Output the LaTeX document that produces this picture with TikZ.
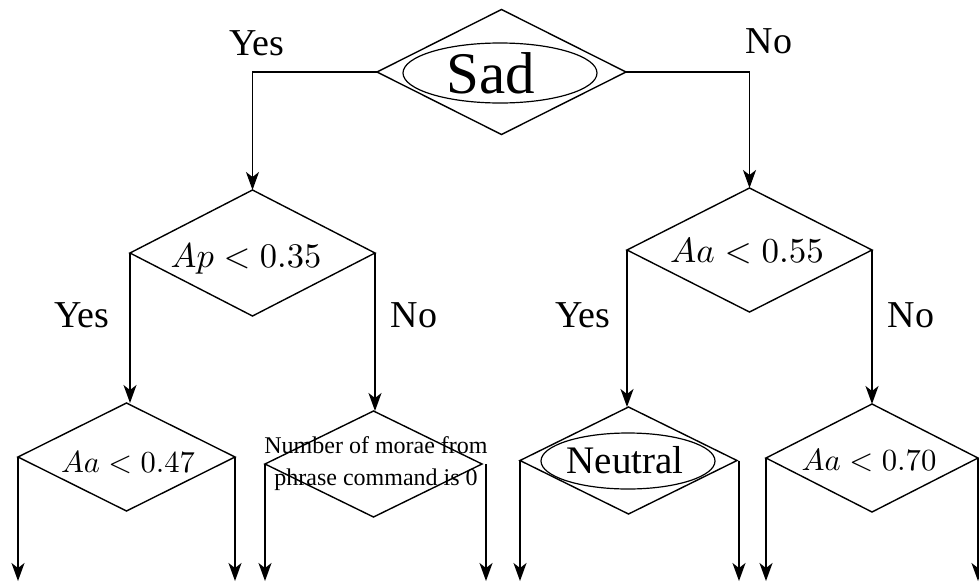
\RequirePackage{fix-cm}
\documentclass[tikz,border=0pt]{standalone}
\usepackage{fontspec}
\setmainfont{Liberation Serif}
\newcommand\bigtxt[3]{\scalebox{#1}{\fontsize{#2}{#2}\selectfont #3}}
\usetikzlibrary{shapes.geometric,arrows.meta}
\begin{document}
\begin{tikzpicture}[x=1pt,y=-1pt,
  every node/.style={inner sep=0pt,outer sep=0pt},
  dia/.style n args={2}{draw,shape=diamond,line width=1.4pt,minimum width=#1,minimum height=#2},
  ell/.style n args={2}{draw,shape=ellipse,line width=1.2pt,minimum width=#1,minimum height=#2},
  arr/.style={line width=1.4pt,-{Stealth[length=18pt,width=13pt,inset=5pt]}},
  txt/.style={anchor=base},
  lab/.style={anchor=base,font=\fontsize{38}{44}\selectfont}]
\useasboundingbox (0,0) rectangle (979,584);
% diamonds
\node[dia={249pt}{125pt}] (D0) at (501.5,72) {};
\node[dia={245pt}{126pt}] (D1) at (252.5,253) {};
\node[dia={245pt}{124pt}] (D2) at (749.5,250) {};
\node[dia={217pt}{108pt}] (D3) at (126.5,457) {};
\node[dia={217pt}{106pt}] (D4) at (373.5,464) {};
\node[dia={217pt}{107pt}] (D5) at (628.5,460.5) {};
\node[dia={212pt}{108pt}] (D6) at (872,458) {};
% ellipses
\node[ell={194pt}{60pt}] (E0) at (500,73) {};
\node[ell={174pt}{56pt}] (E5) at (628,461) {};
% texts
\node[txt,font=\fontsize{59}{60}\selectfont] (tSad) at (491,93) {Sad};
\node[txt,font=\fontsize{39}{44}\selectfont] (tNeu) at (625,473) {Neutral};
\node[txt] (tAp) at (246,267) {\bigtxt{3.45}{10}{$Ap<0.35$}};
\node[txt] (tA55) at (747,262) {\bigtxt{3.5}{10}{$Aa<0.55$}};
\node[txt] (tA47) at (128,472) {\bigtxt{3.05}{10}{$Aa<0.47$}};
\node[txt] (tA70) at (869,470) {\bigtxt{3.07}{10}{$Aa<0.70$}};
\node[txt,font=\fontsize{24}{32}\selectfont] (tM1) at (376,453) {Number of morae from};
\node[txt,font=\fontsize{24}{32}\selectfont] (tM2) at (376,485) {phrase command is 0};
% branch labels
\node[lab] (y0) at (257,55) {Yes};
\node[lab] (n0) at (769,53) {No};
\node[lab] (y1) at (82,327) {Yes};
\node[lab] (n1) at (414,327) {No};
\node[lab] (y2) at (583,327) {Yes};
\node[lab] (n2) at (911,327) {No};
% connectors
\draw[arr] (D0.west) -| (D1.north);
\draw[arr] (D0.east) -| (D2.north);
\draw[arr] (D1.west) -- (D1.west |- D3.north);
\draw[arr] (D1.east) -- (D1.east |- D4.north);
\draw[arr] (D2.west) -- (D2.west |- D5.north);
\draw[arr] (D2.east) -- (D2.east |- D6.north);
\coordinate (bot) at (0,581);
\draw[arr] (D3.west) -- (D3.west |- bot);
\draw[arr] (D3.east) -- (D3.east |- bot);
\draw[arr] (D4.west) -- (D4.west |- bot);
\draw[arr] ([xshift=4pt]D4.east) -- ([xshift=4pt]D4.east |- bot);
\draw[arr] (D5.west) -- (D5.west |- bot);
\draw[arr] ([xshift=2pt]D5.east) -- ([xshift=2pt]D5.east |- bot);
\draw[arr] (D6.west) -- (D6.west |- bot);
\draw[arr] (D6.east) -- (D6.east |- bot);
\end{tikzpicture}
\end{document}
